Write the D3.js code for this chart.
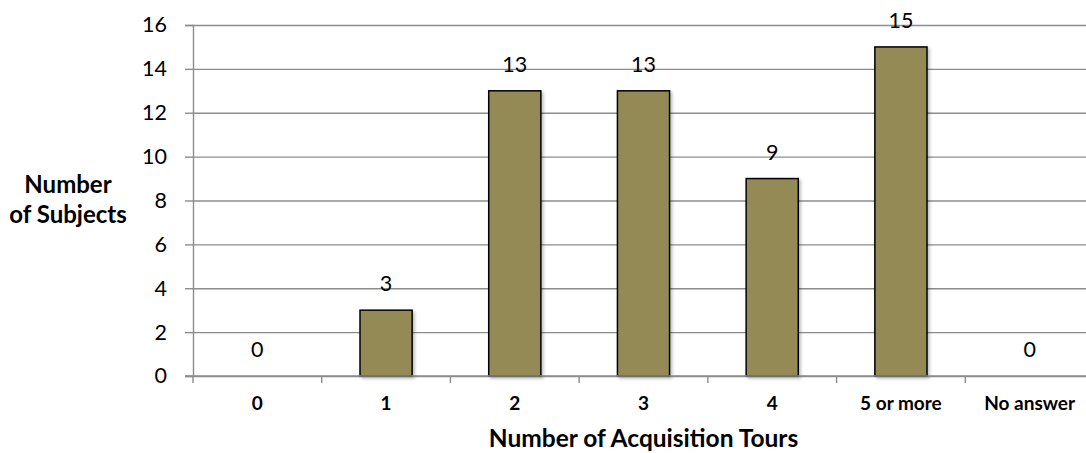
<!DOCTYPE html>
<html>
<head>
<meta charset="utf-8">
<script src="https://cdn.jsdelivr.net/npm/d3@7"></script>
<style>
  html, body { margin: 0; padding: 0; background: #fff; overflow: hidden; }
  svg { display: block; font-family: Lato, "Open Sans", sans-serif; }
</style>
</head>
<body>
<svg id="chart" width="1086" height="453"></svg>
<script>
const categories = ["0", "1", "2", "3", "4", "5 or more", "No answer"];
const values = [0, 3, 13, 13, 9, 15, 0];
const yTicks = [0, 2, 4, 6, 8, 10, 12, 14, 16];
const xTitle = "Number of Acquisition Tours";
const yTitleLines = ["Number", "of Subjects"];

(function () {
const svg = d3.select("#chart");
const mLeft = 193, mRight = 1094, mTop = 25, mBottom = 376;

const x = d3.scaleBand().domain(categories).range([mLeft, mRight]).padding(0);
const y = d3.scaleLinear().domain([0, 16]).range([mBottom, mTop]);
const barW = x.bandwidth() * 0.405;

const defs = svg.append("defs");
const f = defs.append("filter").attr("id", "shadow").attr("x", "-20%").attr("y", "-20%").attr("width", "150%").attr("height", "150%");
f.append("feDropShadow").attr("dx", 2).attr("dy", 2).attr("stdDeviation", 1.5).attr("flood-color", "#000").attr("flood-opacity", 0.25);

// gridlines
svg.append("g")
  .attr("transform", `translate(${mLeft},0)`)
  .call(d3.axisLeft(y).tickValues(yTicks).tickSize(-(mRight - mLeft)).tickFormat(""))
  .call(g => g.select(".domain").remove())
  .call(g => g.selectAll("line").attr("stroke", "#8c8c8c").attr("stroke-width", 1.4));

// y axis
const yAxis = svg.append("g")
  .attr("transform", `translate(${mLeft},0)`)
  .call(d3.axisLeft(y).tickValues(yTicks).tickSize(8).tickPadding(18).tickFormat(d3.format("d")));
yAxis.select(".domain").attr("stroke", "#8c8c8c").attr("stroke-width", 1.4);
yAxis.selectAll("line").attr("stroke", "#8c8c8c").attr("stroke-width", 1.4);
yAxis.selectAll("text").attr("font-size", 21.5).attr("fill", "#000").attr("font-family", "Lato, sans-serif");

// bars
svg.append("g").selectAll("rect")
  .data(categories.map((c, i) => ({c, v: values[i]})).filter(d => d.v > 0))
  .join("rect")
  .attr("x", d => x(d.c) + (x.bandwidth() - barW) / 2)
  .attr("y", d => y(d.v))
  .attr("width", barW)
  .attr("height", d => y(0) - y(d.v))
  .attr("fill", "#948a54")
  .attr("stroke", "#000")
  .attr("stroke-width", 1.5)
  .attr("filter", "url(#shadow)");

// x axis line and ticks at band boundaries
const xAxisG = svg.append("g");
xAxisG.append("line").attr("x1", mLeft - 8).attr("x2", mRight).attr("y1", y(0)).attr("y2", y(0))
  .attr("stroke", "#8c8c8c").attr("stroke-width", 1.4);
const edges = categories.map(c => x(c)).concat([mRight]);
xAxisG.selectAll("line.tick").data(edges).join("line").attr("class", "tick")
  .attr("x1", d => d).attr("x2", d => d).attr("y1", y(0)).attr("y2", y(0) + 7)
  .attr("stroke", "#8c8c8c").attr("stroke-width", 1.4);
xAxisG.selectAll("text").data(categories).join("text")
  .attr("x", d => x(d) + x.bandwidth() / 2)
  .attr("y", 410)
  .attr("text-anchor", "middle")
  .attr("font-weight", "bold")
  .attr("font-size", 19)
  .text(d => d);

// data labels
svg.append("g").selectAll("text")
  .data(categories.map((c, i) => ({c, v: values[i]})))
  .join("text")
  .attr("x", d => x(d.c) + x.bandwidth() / 2)
  .attr("y", d => y(d.v) - 19)
  .attr("text-anchor", "middle")
  .attr("font-size", 21.5)
  .text(d => d.v);

// axis titles
svg.append("text")
  .attr("x", (mLeft + mRight) / 2)
  .attr("y", 447)
  .attr("text-anchor", "middle")
  .attr("font-weight", "bold")
  .attr("font-size", 24.5)
  .text(xTitle);

svg.append("text")
  .attr("text-anchor", "middle")
  .attr("font-weight", "bold")
  .attr("font-size", 24)
  .selectAll("tspan").data(yTitleLines).join("tspan")
  .attr("x", 68)
  .attr("y", (d, i) => 193 + i * 30)
  .text(d => d);
})();
</script>
</body>
</html>
